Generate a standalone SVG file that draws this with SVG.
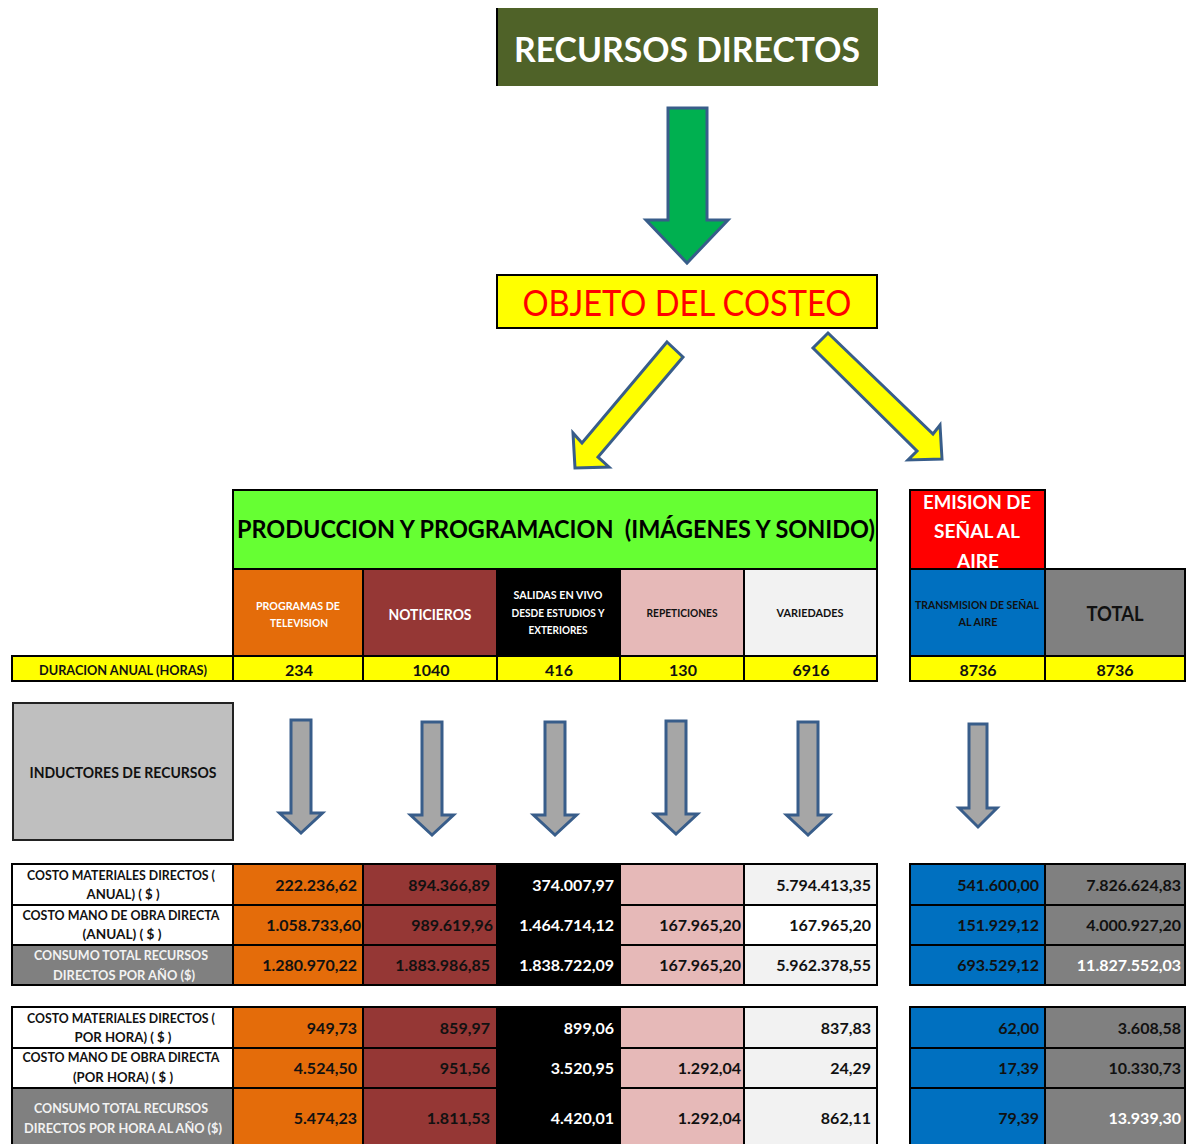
<svg xmlns="http://www.w3.org/2000/svg" width="1194" height="1144" viewBox="0 0 1194 1144">
  <style>
    text { font-family: Lato, "Open Sans", "Liberation Sans", sans-serif; font-weight: bold; }
    .cell { stroke: #000; stroke-width: 2; }
    .mid { text-anchor: middle; }
    .num { text-anchor: end; font-size: 16px; fill: #111; }
    .w { fill: #fff; }
    .lbl { text-anchor: middle; font-size: 12.5px; fill: #111; }
    .hdr { text-anchor: middle; font-size: 10.5px; }
    .dur { text-anchor: middle; font-size: 16px; fill: #111; }
    .arrow { stroke: #385D8A; stroke-width: 3; stroke-linejoin: miter; }
    .orange { fill: #E46C0A; }
    .red { fill: #953735; }
    .black { fill: #000; }
    .pink { fill: #E6B9B8; }
    .light { fill: #F2F2F2; }
    .white { fill: #FFFFFF; }
    .blue { fill: #0070C0; }
    .grey { fill: #808080; }
    .yellow { fill: #FFFF00; }
  </style>
  <defs>
    <path id="downArrow" d="M-10,0 H10 V93 H21.5 L0,113 L-21.5,93 H-10 Z"/>
    <clipPath id="emisionClip"><rect x="910" y="490" width="135" height="79"/></clipPath>
  </defs>

  <rect width="1194" height="1144" fill="#fff"/>

  <!-- top title -->
  <g id="recursos-directos">
    <rect x="496" y="8" width="382" height="78" fill="#4F6228"/>
    <line x1="497" y1="8" x2="497" y2="86" stroke="#000" stroke-width="2"/>
    <text x="687" y="62" class="mid" font-size="35" fill="#fff" textLength="346" lengthAdjust="spacingAndGlyphs">RECURSOS DIRECTOS</text>
  </g>

  <!-- cost object -->
  <g id="objeto-del-costeo">
    <rect x="497" y="275" width="380" height="53" class="yellow" stroke="#000" stroke-width="2"/>
    <text x="687" y="316" class="mid" font-size="37" style="font-weight:normal" fill="#FF0000" textLength="329" lengthAdjust="spacingAndGlyphs">OBJETO DEL COSTEO</text>
  </g>

  <!-- connectors -->
  <g id="connectors">
    <polygon class="arrow" fill="#00B050" points="668,108 707,108 707,220 728,220 687,263 646,220 668,220"/>
    <polygon class="arrow" fill="#FFFF00" points="667,342 683,357 598,457 609,467 575,468 573,433 582,443"/>
    <polygon class="arrow" fill="#FFFF00" points="828,333 933,434 940,425 942,459 908,460 917,451 813,348"/>
    <g fill="#A6A6A6" class="arrow">
      <use href="#downArrow" x="301" y="720"/>
      <use href="#downArrow" x="432" y="722"/>
      <use href="#downArrow" x="555" y="722"/>
      <use href="#downArrow" x="676" y="721"/>
      <use href="#downArrow" x="808" y="722"/>
      <path d="M969,724 H987 V808 H997 L978,827 L959,808 H969 Z"/>
    </g>
  </g>

  <!-- production and programming header -->
  <g id="produccion-programacion">
    <rect x="233" y="490" width="644" height="79" fill="#66FF33" class="cell"/>
    <text x="556" y="538" class="mid" font-size="25" fill="#000" style="white-space:pre" textLength="638" lengthAdjust="spacingAndGlyphs">PRODUCCION Y PROGRAMACION  (IMÁGENES Y SONIDO)</text>
  </g>

  <g id="programas-tv">
    <rect x="233" y="569" width="130" height="87" class="cell orange"/>
    <text x="298" y="610" class="hdr w" textLength="84" lengthAdjust="spacingAndGlyphs">PROGRAMAS DE</text>
    <text x="299" y="627" class="hdr w" textLength="58" lengthAdjust="spacingAndGlyphs">TELEVISION</text>
  </g>
  <g id="noticieros">
    <rect x="363" y="569" width="134" height="87" class="cell red"/>
    <text x="430" y="620" class="mid w" font-size="15.5" textLength="83" lengthAdjust="spacingAndGlyphs">NOTICIEROS</text>
  </g>
  <g id="salidas-en-vivo">
    <rect x="497" y="569" width="123" height="87" class="cell black"/>
    <text x="558" y="599" class="hdr w" textLength="89" lengthAdjust="spacingAndGlyphs">SALIDAS EN VIVO</text>
    <text x="558" y="617" class="hdr w" textLength="93" lengthAdjust="spacingAndGlyphs">DESDE ESTUDIOS Y</text>
    <text x="558" y="634" class="hdr w" textLength="59" lengthAdjust="spacingAndGlyphs">EXTERIORES</text>
  </g>
  <g id="repeticiones">
    <rect x="620" y="569" width="124" height="87" class="cell pink"/>
    <text x="682" y="617" class="hdr" fill="#111" textLength="71" lengthAdjust="spacingAndGlyphs">REPETICIONES</text>
  </g>
  <g id="variedades">
    <rect x="744" y="569" width="133" height="87" class="cell light"/>
    <text x="810" y="617" class="hdr" fill="#111" textLength="67" lengthAdjust="spacingAndGlyphs">VARIEDADES</text>
  </g>

  <g id="emision-senal">
    <rect x="910" y="490" width="135" height="79" fill="#FF0000" class="cell"/>
    <g clip-path="url(#emisionClip)">
      <text x="977" y="509" class="mid w" font-size="19" textLength="108" lengthAdjust="spacingAndGlyphs">EMISION DE</text>
      <text x="977" y="538" class="mid w" font-size="19" textLength="86" lengthAdjust="spacingAndGlyphs">SEÑAL AL</text>
      <text x="978" y="568" class="mid w" font-size="19" textLength="42" lengthAdjust="spacingAndGlyphs">AIRE</text>
    </g>
  </g>
  <g id="transmision">
    <rect x="910" y="569" width="135" height="87" class="cell blue"/>
    <text x="977" y="609" class="hdr" font-size="10" fill="#111" textLength="124" lengthAdjust="spacingAndGlyphs">TRANSMISION DE SEÑAL</text>
    <text x="978" y="626" class="hdr" font-size="10" fill="#111" textLength="39" lengthAdjust="spacingAndGlyphs">AL AIRE</text>
  </g>
  <g id="total">
    <rect x="1045" y="569" width="140" height="87" class="cell grey"/>
    <text x="1115" y="621" class="mid" font-size="21" fill="#111" textLength="57" lengthAdjust="spacingAndGlyphs">TOTAL</text>
  </g>

  <!-- annual duration row -->
  <g id="duracion-anual">
    <rect x="12" y="656" width="221" height="25" class="cell yellow"/>
    <rect x="233" y="656" width="130" height="25" class="cell yellow"/>
    <rect x="363" y="656" width="134" height="25" class="cell yellow"/>
    <rect x="497" y="656" width="123" height="25" class="cell yellow"/>
    <rect x="620" y="656" width="124" height="25" class="cell yellow"/>
    <rect x="744" y="656" width="133" height="25" class="cell yellow"/>
    <rect x="910" y="656" width="135" height="25" class="cell yellow"/>
    <rect x="1045" y="656" width="140" height="25" class="cell yellow"/>
    <text x="123" y="675" class="mid" font-size="13.5" fill="#111" textLength="168" lengthAdjust="spacingAndGlyphs">DURACION ANUAL (HORAS)</text>
    <text x="299" y="676" class="dur">234</text>
    <text x="431" y="676" class="dur">1040</text>
    <text x="559" y="676" class="dur">416</text>
    <text x="683" y="676" class="dur">130</text>
    <text x="811" y="676" class="dur">6916</text>
    <text x="978" y="676" class="dur">8736</text>
    <text x="1115" y="676" class="dur">8736</text>
  </g>

  <!-- resource drivers -->
  <g id="inductores">
    <rect x="13" y="703" width="220" height="137" fill="#BFBFBF" stroke="#222" stroke-width="2"/>
    <text x="123" y="778" class="mid" font-size="14.5" fill="#111" textLength="187" lengthAdjust="spacingAndGlyphs">INDUCTORES DE RECURSOS</text>
  </g>

  <!-- annual costs -->
  <g id="costos-anuales">
    <rect x="12" y="864" width="221" height="41" class="cell white"/>
    <rect x="12" y="905" width="221" height="40" class="cell white"/>
    <rect x="12" y="945" width="221" height="40" class="cell grey"/>
    <rect x="233" y="864" width="130" height="41" class="cell orange"/>
    <rect x="233" y="905" width="130" height="40" class="cell orange"/>
    <rect x="233" y="945" width="130" height="40" class="cell orange"/>
    <rect x="363" y="864" width="134" height="41" class="cell red"/>
    <rect x="363" y="905" width="134" height="40" class="cell red"/>
    <rect x="363" y="945" width="134" height="40" class="cell red"/>
    <rect x="497" y="864" width="123" height="41" class="cell black"/>
    <rect x="497" y="905" width="123" height="40" class="cell black"/>
    <rect x="497" y="945" width="123" height="40" class="cell black"/>
    <rect x="620" y="864" width="124" height="41" class="cell pink"/>
    <rect x="620" y="905" width="124" height="40" class="cell pink"/>
    <rect x="620" y="945" width="124" height="40" class="cell pink"/>
    <rect x="744" y="864" width="133" height="41" class="cell light"/>
    <rect x="744" y="905" width="133" height="40" class="cell white"/>
    <rect x="744" y="945" width="133" height="40" class="cell light"/>
    <rect x="910" y="864" width="135" height="41" class="cell blue"/>
    <rect x="910" y="905" width="135" height="40" class="cell blue"/>
    <rect x="910" y="945" width="135" height="40" class="cell blue"/>
    <rect x="1045" y="864" width="140" height="41" class="cell grey"/>
    <rect x="1045" y="905" width="140" height="40" class="cell grey"/>
    <rect x="1045" y="945" width="140" height="40" class="cell grey"/>

    <text x="121" y="880" class="lbl" textLength="188" lengthAdjust="spacingAndGlyphs">COSTO MATERIALES DIRECTOS (</text>
    <text x="123" y="899" class="lbl" textLength="73" lengthAdjust="spacingAndGlyphs">ANUAL) ( $ )</text>
    <text x="121" y="920" class="lbl" textLength="197" lengthAdjust="spacingAndGlyphs">COSTO MANO DE OBRA DIRECTA</text>
    <text x="122" y="939" class="lbl" textLength="79" lengthAdjust="spacingAndGlyphs">(ANUAL) ( $ )</text>
    <text x="121" y="960" class="lbl" style="fill:#F2F2F2" textLength="174" lengthAdjust="spacingAndGlyphs">CONSUMO TOTAL RECURSOS</text>
    <text x="124" y="980" class="lbl" style="fill:#F2F2F2" textLength="142" lengthAdjust="spacingAndGlyphs">DIRECTOS POR AÑO ($)</text>

    <text x="357" y="891" class="num">222.236,62</text>
    <text x="361" y="931" class="num">1.058.733,60</text>
    <text x="357" y="971" class="num">1.280.970,22</text>
    <text x="490" y="891" class="num">894.366,89</text>
    <text x="493" y="931" class="num">989.619,96</text>
    <text x="490" y="971" class="num">1.883.986,85</text>
    <text x="614" y="891" class="num" style="fill:#fff">374.007,97</text>
    <text x="614" y="931" class="num" style="fill:#fff">1.464.714,12</text>
    <text x="614" y="971" class="num" style="fill:#fff">1.838.722,09</text>
    <text x="741" y="931" class="num">167.965,20</text>
    <text x="741" y="971" class="num">167.965,20</text>
    <text x="871" y="891" class="num">5.794.413,35</text>
    <text x="871" y="931" class="num">167.965,20</text>
    <text x="871" y="971" class="num">5.962.378,55</text>
    <text x="1039" y="891" class="num">541.600,00</text>
    <text x="1039" y="931" class="num">151.929,12</text>
    <text x="1039" y="971" class="num">693.529,12</text>
    <text x="1181" y="891" class="num">7.826.624,83</text>
    <text x="1181" y="931" class="num">4.000.927,20</text>
    <text x="1181" y="971" class="num" style="fill:#fff">11.827.552,03</text>
  </g>

  <!-- hourly costs -->
  <g id="costos-por-hora">
    <rect x="12" y="1007" width="221" height="41" class="cell white"/>
    <rect x="12" y="1048" width="221" height="40" class="cell white"/>
    <rect x="12" y="1088" width="221" height="60" class="cell grey"/>
    <rect x="233" y="1007" width="130" height="41" class="cell orange"/>
    <rect x="233" y="1048" width="130" height="40" class="cell orange"/>
    <rect x="233" y="1088" width="130" height="60" class="cell orange"/>
    <rect x="363" y="1007" width="134" height="41" class="cell red"/>
    <rect x="363" y="1048" width="134" height="40" class="cell red"/>
    <rect x="363" y="1088" width="134" height="60" class="cell red"/>
    <rect x="497" y="1007" width="123" height="41" class="cell black"/>
    <rect x="497" y="1048" width="123" height="40" class="cell black"/>
    <rect x="497" y="1088" width="123" height="60" class="cell black"/>
    <rect x="620" y="1007" width="124" height="41" class="cell pink"/>
    <rect x="620" y="1048" width="124" height="40" class="cell pink"/>
    <rect x="620" y="1088" width="124" height="60" class="cell pink"/>
    <rect x="744" y="1007" width="133" height="41" class="cell light"/>
    <rect x="744" y="1048" width="133" height="40" class="cell light"/>
    <rect x="744" y="1088" width="133" height="60" class="cell light"/>
    <rect x="910" y="1007" width="135" height="41" class="cell blue"/>
    <rect x="910" y="1048" width="135" height="40" class="cell blue"/>
    <rect x="910" y="1088" width="135" height="60" class="cell blue"/>
    <rect x="1045" y="1007" width="140" height="41" class="cell grey"/>
    <rect x="1045" y="1048" width="140" height="40" class="cell grey"/>
    <rect x="1045" y="1088" width="140" height="60" class="cell grey"/>

    <text x="121" y="1023" class="lbl" textLength="188" lengthAdjust="spacingAndGlyphs">COSTO MATERIALES DIRECTOS (</text>
    <text x="123" y="1042" class="lbl" textLength="97" lengthAdjust="spacingAndGlyphs">POR HORA) ( $ )</text>
    <text x="121" y="1062" class="lbl" textLength="197" lengthAdjust="spacingAndGlyphs">COSTO MANO DE OBRA DIRECTA</text>
    <text x="123" y="1082" class="lbl" textLength="100" lengthAdjust="spacingAndGlyphs">(POR HORA) ( $ )</text>
    <text x="121" y="1113" class="lbl" style="fill:#F2F2F2" textLength="174" lengthAdjust="spacingAndGlyphs">CONSUMO TOTAL RECURSOS</text>
    <text x="123" y="1133" class="lbl" style="fill:#F2F2F2" textLength="198" lengthAdjust="spacingAndGlyphs">DIRECTOS POR HORA AL AÑO ($)</text>

    <text x="357" y="1034" class="num">949,73</text>
    <text x="357" y="1074" class="num">4.524,50</text>
    <text x="357" y="1124" class="num">5.474,23</text>
    <text x="490" y="1034" class="num">859,97</text>
    <text x="490" y="1074" class="num">951,56</text>
    <text x="490" y="1124" class="num">1.811,53</text>
    <text x="614" y="1034" class="num" style="fill:#fff">899,06</text>
    <text x="614" y="1074" class="num" style="fill:#fff">3.520,95</text>
    <text x="614" y="1124" class="num" style="fill:#fff">4.420,01</text>
    <text x="741" y="1074" class="num">1.292,04</text>
    <text x="741" y="1124" class="num">1.292,04</text>
    <text x="871" y="1034" class="num">837,83</text>
    <text x="871" y="1074" class="num">24,29</text>
    <text x="871" y="1124" class="num">862,11</text>
    <text x="1039" y="1034" class="num">62,00</text>
    <text x="1039" y="1074" class="num">17,39</text>
    <text x="1039" y="1124" class="num">79,39</text>
    <text x="1181" y="1034" class="num">3.608,58</text>
    <text x="1181" y="1074" class="num">10.330,73</text>
    <text x="1181" y="1124" class="num" style="fill:#fff">13.939,30</text>
  </g>
</svg>
